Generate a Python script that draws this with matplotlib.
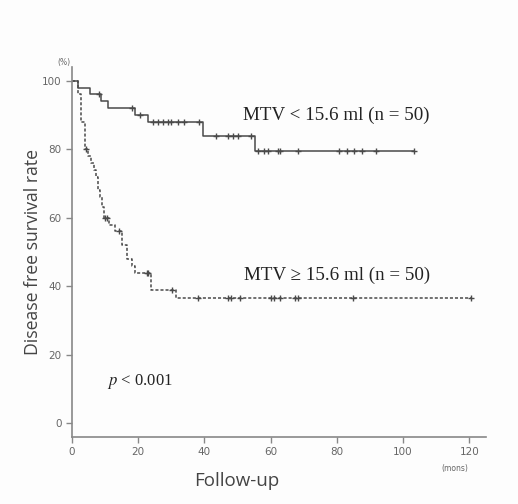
import matplotlib
matplotlib.use("Agg")
import matplotlib.pyplot as plt

plt.rcParams["mathtext.fontset"] = "stix"

# Low MTV group (solid)
t_low_mtv = [0, 1.8, 5.3, 8.8, 10.8, 18.9, 22.9, 39.5, 55.3, 103.3]
s_low_mtv = [100, 98, 96, 94, 92, 90, 88, 84, 79.5, 79.5]
c_low_mtv = [8.3, 18.0, 20.4, 24.4, 25.9, 27.4, 28.9, 29.9, 31.9, 33.9, 38.5,
             43.6, 47.0, 48.5, 50.0, 54.0, 56.1, 58.1, 59.1, 62.1, 62.7, 68.2,
             80.7, 83.2, 85.2, 87.7, 91.8, 103.3]

# High MTV group (dashed)
t_high_mtv = [0, 1.8, 2.8, 3.8, 4.8, 5.6, 6.6, 7.3, 7.8, 8.6, 9.1, 9.7, 11.2,
              13.0, 15.0, 16.5, 18.0, 19.0, 24.0, 31.3, 120.5]
s_high_mtv = [100, 96, 88, 80, 78, 76, 74, 72, 68, 66, 63, 60, 58,
              56, 52, 48, 46, 44, 39, 36.5, 36.5]
c_high_mtv = [4.2, 10.0, 10.5, 14.2, 22.5, 23.0, 30.2, 38.0, 47.1, 48.1, 50.6,
              60.2, 61.1, 62.7, 67.2, 68.2, 84.8, 120.5]

xticks = [0, 20, 40, 60, 80, 100, 120]
yticks = [0, 20, 40, 60, 80, 100]


def surv_at(times, surv, t):
    val = surv[0]
    for ti, si in zip(times, surv):
        if ti <= t:
            val = si
    return val


fig = plt.figure(figsize=(5.18, 5.04), dpi=100)
fig.patch.set_facecolor("#fdfdfd")
ax = fig.add_axes([0.139, 0.133, 0.799, 0.734])
ax.set_facecolor("#fdfdfd")

line_col = "#4a4a4a"
ax.step(t_low_mtv, s_low_mtv, where="post", color=line_col, lw=1.1)
ax.plot(c_low_mtv, [surv_at(t_low_mtv, s_low_mtv, c) for c in c_low_mtv],
        ls="none", marker="+", ms=5, mew=1.0, color=line_col)

ax.step(t_high_mtv, s_high_mtv, where="post", color=line_col, lw=1.1,
        ls=(0, (2, 1.3)))
ax.plot(c_high_mtv, [surv_at(t_high_mtv, s_high_mtv, c) for c in c_high_mtv],
        ls="none", marker="+", ms=5, mew=1.0, color=line_col)

ax.set_xlim(0, 125)
ax.set_ylim(-4, 104)
ax.spines["top"].set_visible(False)
ax.spines["right"].set_visible(False)
for sp in ("left", "bottom"):
    ax.spines[sp].set_color("#888888")
    ax.spines[sp].set_linewidth(1.2)

ax.set_xticks(xticks)
ax.set_yticks(yticks)
ax.tick_params(direction="out", length=4, width=1, color="#888888",
               labelcolor="#666666", labelsize=7.5)
for lab in ax.get_xticklabels() + ax.get_yticklabels():
    lab.set_family("DejaVu Sans")

ax.set_ylabel("Disease free survival rate", fontsize=12.7, color="#444444",
              family="Open Sans")
ax.yaxis.set_label_coords(-0.072, 0.5)
ax.set_xlabel("Follow-up", fontsize=13.5, color="#444444", family="Open Sans")
ax.xaxis.set_label_coords(0.399, -0.095)

ax.text(51.5, 90.0, "MTV < 15.6 ml (n = 50)", family="Liberation Serif",
        fontsize=13.7, color="#222222", va="center", ha="left")
ax.text(52.0, 43.3, "MTV \u2265 15.6 ml (n = 50)", family="Liberation Serif",
        fontsize=13.7, color="#222222", va="center", ha="left")
ax.text(10.5, 12.3, "$p$ < 0.001", family="Liberation Serif",
        fontsize=12, color="#222222", va="center", ha="left")

fig.text(64 / 518, 1 - 63 / 504, "(%)", fontsize=5.5, color="#666666",
         ha="center", va="center")
fig.text(455 / 518, 1 - 468 / 504, "(mons)", fontsize=5.5, color="#666666",
         ha="center", va="center")

fig.savefig("out.png", dpi=100, facecolor=fig.get_facecolor())
